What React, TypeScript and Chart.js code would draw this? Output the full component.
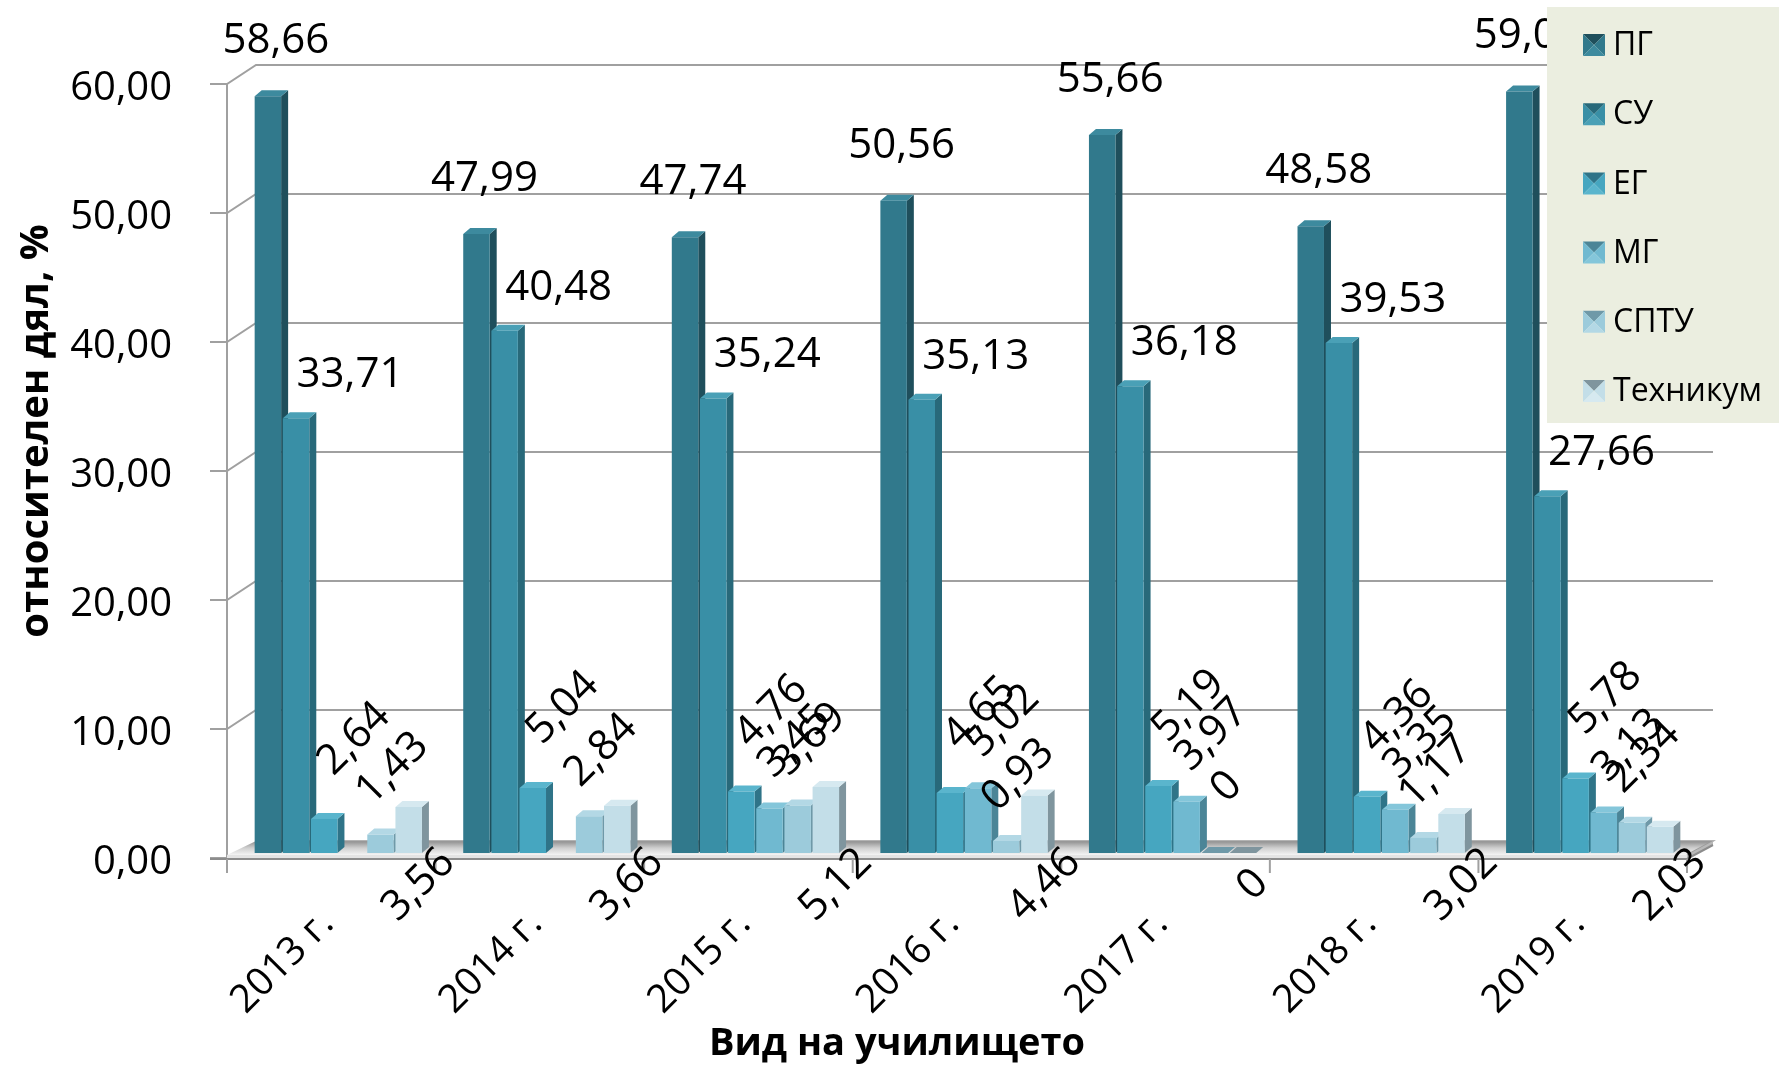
import React, { useEffect, useRef } from "react";
import { Chart, registerables } from "chart.js";

Chart.register(...registerables);

// ---------- data ----------
const categories = ["2013 г.", "2014 г.", "2015 г.", "2016 г.", "2017 г.", "2018 г.", "2019 г."];
const seriesNames = ["ПГ", "СУ", "ЕГ", "МГ", "СПТУ", "Техникум"];
const pgValues = [58.66, 47.99, 47.74, 50.56, 55.66, 48.58, 59.04];
const suValues = [33.71, 40.48, 35.24, 35.13, 36.18, 39.53, 27.66];
const egValues = [2.64, 5.04, 4.76, 4.65, 5.19, 4.36, 5.78];
const mgValues = [null, null, 3.45, 5.02, 3.97, 3.35, 3.13];
const sptuValues = [1.43, 2.84, 3.69, 0.93, 0, 1.17, 2.34];
const technikumValues = [3.56, 3.66, 5.12, 4.46, 0, 3.02, 2.03];
const yMin = 0;
const yMax = 60;
const yStep = 10;
const yTitle = "относителен дял, %";
const xTitle = "Вид на училището";

// ---------- styles ----------
const FONT = "'Open Sans', 'Noto Sans', sans-serif";
const FRONT = ["#31798c", "#398fa6", "#46a6c0", "#70b9d0", "#9ccbdb", "#c3dee8"];
const SIDE = ["#1f4f5c", "#28697a", "#2f7488", "#4b8597", "#6f99a8", "#7f959e"];
const TOPC = ["#3d8a9e", "#4aa0b6", "#5ab5cd", "#84c6da", "#b3d8e5", "#d6e9f0"];
const LABEL_STYLE = [
  { dx: 8, dy: -55, rot: 0 },
  { dx: 54, dy: -43, rot: 0 },
  { dx: 30, dy: -80, rot: -45 },
  { dx: 25, dy: -67, rot: -45 },
  { dx: 12, dy: -66, rot: -45 },
  { dx: 10, below: 32, rot: -45 },
];
const DEPTH_X = 7;
const DEPTH_Y = 6;
const FRONT_OFF = { dx: -7, dy: 5 };
const BACK_OFF = { dx: 15, dy: -14 };

const seriesValues = [pgValues, suValues, egValues, mgValues, sptuValues, technikumValues];

function fmt(v: number): string {
  if (v === 0) return "0";
  return v.toFixed(2).replace(".", ",");
}

function poly(ctx: CanvasRenderingContext2D, pts: number[][], fill: any) {
  ctx.beginPath();
  ctx.moveTo(pts[0][0], pts[0][1]);
  for (let i = 1; i < pts.length; i++) ctx.lineTo(pts[i][0], pts[i][1]);
  ctx.closePath();
  ctx.fillStyle = fill;
  ctx.fill();
}

const threeDPlugin = {
  id: "threeD",
  beforeDatasetsDraw(chart: any) {
    const ctx: CanvasRenderingContext2D = chart.ctx;
    const ca = chart.chartArea;
    const ys = chart.scales.y;
    const y0 = ys.getPixelForValue(0);
    const fl = ca.left + FRONT_OFF.dx;
    const fr = ca.right + FRONT_OFF.dx;
    const bl = ca.left + BACK_OFF.dx;
    const br = ca.right + BACK_OFF.dx + 4;
    ctx.save();
    ctx.strokeStyle = "#a0a0a0";
    ctx.lineWidth = 2;
    for (let v = yMin; v <= yMax; v += yStep) {
      const yp = ys.getPixelForValue(v);
      const fy = yp + FRONT_OFF.dy;
      const by = yp + BACK_OFF.dy;
      ctx.beginPath();
      ctx.moveTo(fl - 17, fy);
      ctx.lineTo(fl, fy);
      if (v > yMin) {
        ctx.lineTo(bl + 7, by);
        ctx.lineTo(br, by);
      }
      ctx.stroke();
    }
    ctx.beginPath();
    ctx.moveTo(fl, ys.getPixelForValue(yMax) + FRONT_OFF.dy);
    ctx.lineTo(fl, y0 + 20);
    ctx.stroke();
    // floor
    const floorFront = y0 + 2;
    const floorBack = y0 + BACK_OFF.dy + 2;
    const g = ctx.createLinearGradient(0, floorBack, 0, floorFront);
    g.addColorStop(0, "#8e8e8e");
    g.addColorStop(0.5, "#cfcfcf");
    g.addColorStop(1, "#f4f4f4");
    poly(ctx, [[fl, floorFront], [fr, floorFront], [br, floorBack], [bl + 7, floorBack]], g);
    ctx.strokeStyle = "#9a9a9a";
    ctx.lineWidth = 1.5;
    ctx.beginPath();
    ctx.moveTo(bl + 7, floorBack);
    ctx.lineTo(br, floorBack);
    ctx.lineTo(fr, floorFront);
    ctx.stroke();
    poly(ctx, [[fl, floorFront], [fr, floorFront], [fr, floorFront + 4], [fl, floorFront + 4]], "#e4e4e4");
    poly(ctx, [[fr, floorFront], [br, floorBack], [br, floorBack + 4], [fr, floorFront + 4]], "#b8b8b8");
    ctx.strokeStyle = "#8c8c8c";
    ctx.lineWidth = 2;
    ctx.beginPath();
    ctx.moveTo(fl - 17, floorFront + 4);
    ctx.lineTo(fr, floorFront + 4);
    ctx.lineTo(br, floorBack + 4);
    ctx.stroke();
    // x tick marks at category boundaries
    const xs = chart.scales.x;
    const cw = (ca.right - ca.left) / categories.length;
    ctx.strokeStyle = "#a0a0a0";
    ctx.lineWidth = 2;
    for (let k = 0; k <= categories.length; k++) {
      const x = xs.left + k * cw + FRONT_OFF.dx;
      ctx.beginPath();
      ctx.moveTo(x, floorFront + 4);
      ctx.lineTo(x, floorFront + 18);
      ctx.stroke();
    }
    // side and top faces of bars (fronts drawn by Chart.js afterwards)
    for (let i = 0; i < seriesValues.length; i++) {
      const meta = chart.getDatasetMeta(i);
      meta.data.forEach((el: any, j: number) => {
        const v = seriesValues[i][j];
        if (v === null || v === undefined) return;
        const p = el.getProps(["x", "y", "base", "width"], true);
        const xl = p.x - p.width / 2;
        const xr = p.x + p.width / 2;
        const top = Math.min(p.y, p.base);
        const base = Math.max(p.y, p.base);
        poly(ctx, [[xr, top], [xr + DEPTH_X, top - DEPTH_Y], [xr + DEPTH_X, base - DEPTH_Y], [xr, base]], SIDE[i]);
        poly(ctx, [[xl, top], [xl + DEPTH_X, top - DEPTH_Y], [xr + DEPTH_X, top - DEPTH_Y], [xr, top]], v === 0 ? SIDE[i] : TOPC[i]);
      });
    }
    ctx.restore();
  },
  afterDatasetsDraw(chart: any) {
    const ctx: CanvasRenderingContext2D = chart.ctx;
    const ys = chart.scales.y;
    const y0 = ys.getPixelForValue(0);
    ctx.save();
    ctx.fillStyle = "#000";
    ctx.font = `42px ${FONT}`;
    ctx.textAlign = "center";
    ctx.textBaseline = "middle";
    for (let i = 0; i < seriesValues.length; i++) {
      const meta = chart.getDatasetMeta(i);
      const st: any = LABEL_STYLE[i];
      meta.data.forEach((el: any, j: number) => {
        const v = seriesValues[i][j];
        if (v === null || v === undefined) return;
        const p = el.getProps(["x", "y"], true);
        const cx = p.x + st.dx;
        const cy = st.below !== undefined ? y0 + st.below : p.y + st.dy;
        ctx.save();
        ctx.translate(cx, cy);
        ctx.rotate((st.rot * Math.PI) / 180);
        ctx.fillText(fmt(v as number), 0, 0);
        ctx.restore();
      });
    }
    ctx.restore();
  },
  afterDraw(chart: any) {
    const ctx: CanvasRenderingContext2D = chart.ctx;
    ctx.save();
    ctx.fillStyle = "#000";
    ctx.textAlign = "center";
    ctx.textBaseline = "middle";
    ctx.font = `bold 38px ${FONT}`;
    ctx.fillText(xTitle, 897, 1044);
    ctx.save();
    ctx.font = `bold 40px ${FONT}`;
    ctx.translate(37, 431);
    ctx.rotate(-Math.PI / 2);
    ctx.fillText(yTitle, 0, 0);
    ctx.restore();
    // legend
    const lx = 1547, ly = 7, lw = 232, lh = 416;
    ctx.fillStyle = "#ebeee0";
    ctx.fillRect(lx, ly, lw, lh);
    ctx.font = `32px ${FONT}`;
    ctx.textAlign = "left";
    for (let i = 0; i < seriesNames.length; i++) {
      const cy = 45 + i * 69.2;
      const s = 22;
      const x = 1583, y = cy - s / 2;
      const c = [x + s / 2, y + s / 2];
      poly(ctx, [[x, y], [x + s, y], c], SIDE[i]);
      poly(ctx, [[x, y], [x, y + s], c], FRONT[i]);
      poly(ctx, [[x + s, y], [x + s, y + s], c], FRONT[i]);
      poly(ctx, [[x, y + s], [x + s, y + s], c], TOPC[i]);
      ctx.fillStyle = "#000";
      ctx.fillText(seriesNames[i], 1613, cy + 1);
    }
    ctx.restore();
  },
};

export default function App() {
  const ref = useRef<HTMLCanvasElement | null>(null);
  useEffect(() => {
    if (!ref.current) return;
    const chart = new Chart(ref.current, {
      type: "bar",
      data: {
        labels: categories,
        datasets: seriesNames.map((name, i) => ({
          label: name,
          data: seriesValues[i] as any,
          backgroundColor: FRONT[i],
          borderWidth: 0,
          barPercentage: 0.94,
          categoryPercentage: 0.81,
        })),
      },
      options: {
        animation: false,
        responsive: false,
        layout: { padding: { top: 79, right: 85, left: 0, bottom: 0 } },
        plugins: { legend: { display: false }, tooltip: { enabled: false } },
        scales: {
          x: {
            grid: { display: false },
            border: { display: false },
            ticks: {
              font: { family: FONT, size: 39 },
              color: "#000",
              minRotation: 45,
              maxRotation: 45,
              padding: 40,
              labelOffset: -11,
              autoSkip: false,
            },
            afterFit: (s: any) => {
              s.height = 218;
            },
          },
          y: {
            min: yMin,
            max: yMax,
            grid: { display: false },
            border: { display: false },
            ticks: {
              stepSize: yStep,
              font: { family: FONT, size: 40 },
              color: "#000",
              padding: 54,
              labelOffset: 10,
              callback: (v: any) => Number(v).toFixed(2).replace(".", ","),
            },
            afterFit: (s: any) => {
              s.width = 234;
            },
          },
        },
      },
      plugins: [threeDPlugin],
    });
    return () => chart.destroy();
  }, []);
  return (
    <div style={{ position: "fixed", left: 0, top: 0, width: 1779, height: 1071, background: "#fff" }}>
      <canvas ref={ref} width={1779} height={1071} style={{ display: "block" }} />
    </div>
  );
}
